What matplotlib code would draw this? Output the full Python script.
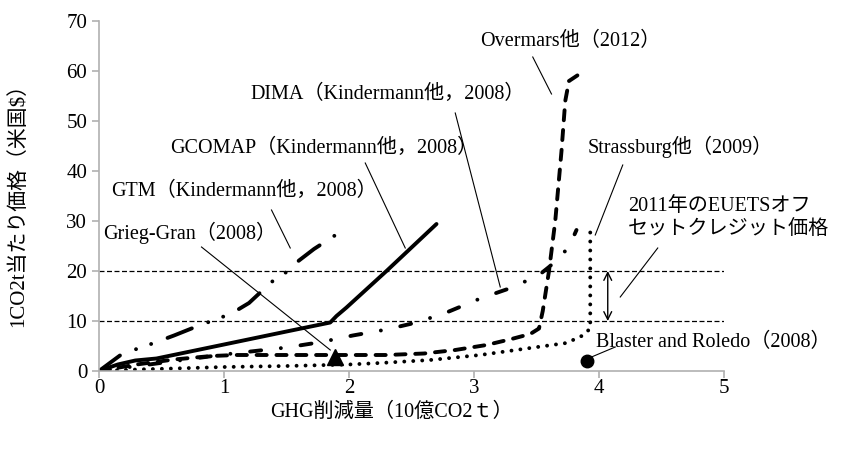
import matplotlib
matplotlib.use("Agg")
import matplotlib.pyplot as plt

JP = ["Liberation Serif", "Noto Sans CJK JP"]

# 削減量（10億CO2t）と価格（米国$）
gtm_x = [0, 0.2, 0.33, 0.46, 0.6, 0.82, 0.95, 1.08, 1.2, 1.38, 1.5, 1.6, 1.72, 1.93]
gtm_y = [0, 3.7, 4.6, 5.8, 7.1, 9.3, 10.4, 11.8, 13.6, 17.8, 19.8, 22.1, 24.4, 27.8]

gcomap_x = [0, 0.15, 0.29, 0.46, 1.0, 1.5, 1.85, 1.9, 1.98, 2.3, 2.7]
gcomap_y = [0, 1.3, 2.1, 2.5, 5.3, 7.9, 9.7, 11.0, 12.7, 20.0, 29.4]

dima_x = [0, 0.4, 0.7, 1.0, 1.25, 1.5, 1.78, 2.03, 2.3, 2.54, 2.78, 3.05, 3.27, 3.51, 3.6, 3.7, 3.77, 3.82]
dima_y = [0, 1.3, 2.3, 3.3, 4.0, 4.7, 5.8, 7.1, 8.3, 9.7, 11.7, 14.5, 16.4, 19.0, 20.8, 23.0, 25.4, 28.2]

overmars_x = [0, 0.3, 0.6, 0.9, 1.1, 2.3, 2.6, 2.85, 3.1, 3.3, 3.45, 3.52, 3.55, 3.6, 3.65, 3.7, 3.73, 3.76, 3.85]
overmars_y = [0, 1.3, 2.3, 3.0, 3.2, 3.2, 3.5, 4.2, 5.2, 6.4, 7.4, 8.5, 12.0, 20.0, 30.0, 44.0, 54.0, 58.0, 59.5]

strassburg_x = [0, 0.3, 0.6, 1.0, 1.5, 2.0, 2.25, 2.65, 3.05, 3.45, 3.74, 3.87, 3.93, 3.93]
strassburg_y = [0, 0.3, 0.5, 0.8, 1.0, 1.3, 1.6, 2.2, 3.2, 4.6, 5.6, 7.1, 8.5, 28.4]

grieg_x, grieg_y = [1.89], [2.8]
blaster_x, blaster_y = [3.9], [2.0]

euets_low, euets_high = 10, 20
euets_x = 4.07

# (text, text xy, pointer start, pointer end)
labels = [
    ("Overmars他（2012）", (3.05, 66.0), (3.47, 62.8), (3.62, 55.4)),
    ("DIMA（Kindermann他，2008）", (1.21, 55.4), (2.85, 51.6), (3.21, 16.8)),
    ("GCOMAP（Kindermann他，2008）", (0.57, 44.6), (2.13, 41.6), (2.45, 24.6)),
    ("GTM（Kindermann他，2008）", (0.10, 36.0), (1.38, 32.2), (1.53, 24.6)),
    ("Grieg-Gran（2008）", (0.03, 27.6), (0.82, 24.8), (1.85, 4.2)),
    ("Strassburg他（2009）", (3.91, 44.8), (4.19, 41.2), (3.97, 27.2)),
    ("2011年のEUETSオフ\nセットクレジット価格", (4.23, 30.5), (4.47, 24.6), (4.17, 14.8)),
    ("Blaster and Roledo（2008）", (3.98, 5.8), (4.13, 4.8), (3.94, 2.8)),
]

fig = plt.figure(figsize=(8.68, 4.5), dpi=100)
ax = fig.add_axes([99 / 868, 79 / 450, 625 / 868, 350 / 450])

lw = 2.8
common = dict(color="black", lw=lw, dash_capstyle="round", solid_capstyle="round",
              solid_joinstyle="round", dash_joinstyle="round")
ax.plot(gtm_x, gtm_y, dashes=(6.7, 4.5, 0.01, 4.1, 0.01, 4.5), **common)
ax.plot(gcomap_x, gcomap_y, **common)
ax.plot(dima_x, dima_y, dashes=(2.85, 5.1, 0.01, 5.1), **common)
ax.plot(overmars_x, overmars_y, dashes=(2.6, 2.5), **common)
ax.plot(strassburg_x, strassburg_y, dashes=(0.01, 2.3), **common)
ax.plot(grieg_x, grieg_y, "k^", ms=11)
ax.plot(blaster_x, blaster_y, "ko", ms=9)

for yv in (euets_low, euets_high):
    ax.axhline(yv, color="black", lw=0.9, ls=(0, (4, 2)), zorder=1)
ax.annotate("", xy=(euets_x, euets_low), xytext=(euets_x, euets_high),
            arrowprops=dict(arrowstyle="<->", lw=1, color="black",
                            shrinkA=0, shrinkB=0, mutation_scale=14))

for text, txy, p0, p1 in labels:
    ax.plot([p0[0], p1[0]], [p0[1], p1[1]], color="black", lw=0.8)
    ax.text(txy[0], txy[1], text, family=JP, fontsize=14.5, ha="left",
            va="center", linespacing=1.3)

ax.set_xlim(0, 5)
ax.set_ylim(0, 70)
ax.set_xticks(range(0, 6))
ax.set_yticks(range(0, 71, 10))
for s in ("top", "right"):
    ax.spines[s].set_visible(False)
for s in ("left", "bottom"):
    ax.spines[s].set_color("#b0b0b0")
    ax.spines[s].set_linewidth(1.2)
ax.tick_params(colors="#b0b0b0", length=5, width=1.2, labelcolor="black",
               labelsize=15)
ax.tick_params(axis="x", pad=1)
for lab in ax.get_xticklabels() + ax.get_yticklabels():
    lab.set_family("Liberation Serif")

fig.text(18 / 868, 0.555, "1CO2t当たり価格（米国$）", family=JP, fontsize=15,
         rotation=90, ha="center", va="center")
fig.text(270 / 868, 38 / 450, "GHG削減量（10億CO2ｔ）", family=JP, fontsize=14.5,
         ha="left", va="center")

fig.savefig("out.png", dpi=100)
